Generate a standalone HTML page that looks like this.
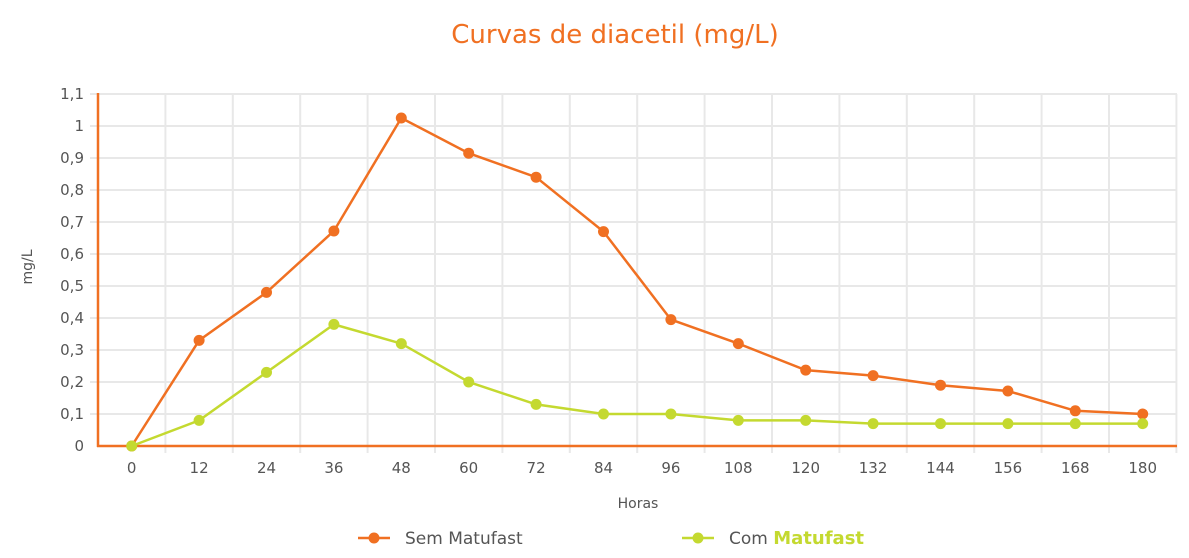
<!DOCTYPE html>
<html><head><meta charset="utf-8"><style>body{margin:0;background:#fff}svg{display:block;font-family:"DejaVu Sans","Liberation Sans",sans-serif}</style></head><body>
<svg width="1189" height="558" xmlns="http://www.w3.org/2000/svg">
<text x="615" y="43" text-anchor="middle" font-size="26" fill="#f07022">Curvas de diacetil (mg/L)</text>
<g id="g" stroke="#e8e8e8" stroke-width="2"></g>
<g id="t" font-size="15" fill="#555"></g>
<line x1="98" y1="93" x2="98" y2="447" stroke="#f07022" stroke-width="2.5"/>
<line x1="97" y1="446" x2="1177" y2="446" stroke="#f07022" stroke-width="2.5"/>
<g id="s"></g>
<text x="32" y="267" font-size="14" fill="#555" text-anchor="middle" transform="rotate(-90 32 267)">mg/L</text>
<text x="638" y="508" font-size="14" fill="#555" text-anchor="middle">Horas</text>
<line x1="358" y1="538" x2="390" y2="538" stroke="#f07022" stroke-width="2.5"/><circle cx="374" cy="538" r="5.5" fill="#f07022"/>
<text x="405" y="544" font-size="17" fill="#555">Sem Matufast</text>
<line x1="682" y1="538" x2="714" y2="538" stroke="#c4d930" stroke-width="2.5"/><circle cx="698" cy="538" r="5.5" fill="#c4d930"/>
<text x="729" y="544" font-size="17" fill="#555">Com <tspan fill="#c4d930" font-weight="bold" font-size="18">Matufast</tspan></text>
</svg>
<script>
var ns="http://www.w3.org/2000/svg",g=document.getElementById('g'),t=document.getElementById('t'),s=document.getElementById('s');
function el(p,n,a,tx){var e=document.createElementNS(ns,n);for(var k in a)e.setAttribute(k,a[k]);if(tx!=null)e.textContent=tx;p.appendChild(e);return e;}
var W=67.4,X0=98;
for(var i=0;i<=11;i++){var y=446-32*i;if(i>0)el(g,'line',{x1:90,y1:y,x2:1177,y2:y});el(t,'text',{x:84,y:y+5,'text-anchor':'end'},i==0?'0':(i==10?'1':(i==11?'1,1':'0,'+i)));}
for(var i=1;i<=16;i++){var x=X0+W*i;el(g,'line',{x1:x,y1:94,x2:x,y2:453});}
for(var i=0;i<16;i++)el(t,'text',{x:X0+W/2+W*i,y:473,'text-anchor':'middle'},String(i*12));
var A=[0,.33,.48,.672,1.025,.915,.84,.67,.395,.32,.237,.22,.19,.172,.11,.10],B=[0,.08,.23,.38,.32,.2,.13,.1,.1,.08,.08,.07,.07,.07,.07,.07];
function ser(d,c){var p=d.map(function(v,i){return (X0+W/2+W*i)+','+(446-v*320)}).join(' ');el(s,'polyline',{points:p,fill:'none',stroke:c,'stroke-width':2.5});d.forEach(function(v,i){el(s,'circle',{cx:X0+W/2+W*i,cy:446-v*320,r:5.5,fill:c});});}
ser(A,'#f07022');ser(B,'#c4d930');
</script>
</body></html>
